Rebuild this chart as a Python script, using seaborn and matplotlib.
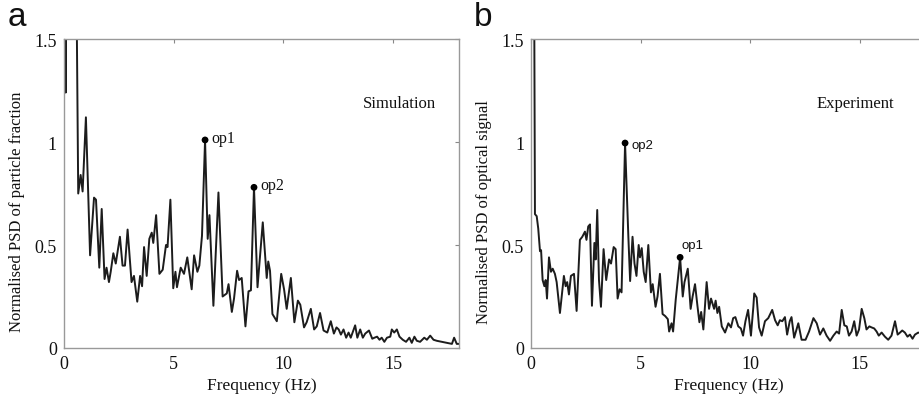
#---------------------------------------------------------------
"""
Normalised PSD: simulated particle fraction vs. measured optical signal
"""
#---------------------------------------------------------------
import matplotlib
matplotlib.use('Agg')
import matplotlib.pyplot as plt
import seaborn as sns

#---------------------------------------------------------------
# panel a: simulation
sim_freq = [0.0, 0.08, 0.16, 0.55, 0.65, 0.76, 0.85, 1.0, 1.19, 1.37, 1.46, 1.61,
            1.72, 1.85, 1.94, 2.05, 2.13, 2.25, 2.36, 2.55, 2.67, 2.78, 2.9, 3.08,
            3.19, 3.34, 3.47, 3.56, 3.65, 3.77, 3.89, 4.0, 4.07, 4.2, 4.35, 4.5,
            4.65, 4.72, 4.85, 4.98, 5.08, 5.15, 5.32, 5.47, 5.62, 5.82, 5.93, 6.08,
            6.17, 6.29, 6.43, 6.55, 6.63, 6.81, 7.04, 7.23, 7.42, 7.5, 7.65, 7.75,
            7.89, 7.98, 8.1, 8.27, 8.41, 8.52, 8.66, 8.82, 9.06, 9.24, 9.31, 9.39,
            9.5, 9.7, 9.9, 10.03, 10.15, 10.34, 10.5, 10.66, 10.77, 10.94, 11.06,
            11.25, 11.4, 11.52, 11.67, 11.83, 12.0, 12.16, 12.3, 12.42, 12.52,
            12.62, 12.74, 12.86, 12.97, 13.07, 13.27, 13.37, 13.5, 13.62, 13.73,
            13.9, 14.05, 14.15, 14.27, 14.38, 14.48, 14.6, 14.72, 14.87, 14.94,
            15.05, 15.17, 15.29, 15.44, 15.59, 15.74, 15.85, 15.97, 16.08, 16.23,
            16.42, 16.54, 16.69, 16.84, 16.99, 17.22, 17.45, 17.68, 17.78, 17.9, 18.0]
sim_psd = [3.0, 1.24, 3.0, 2.0, 0.75, 0.84, 0.76, 1.12, 0.45, 0.73, 0.72, 0.39,
           0.675, 0.335, 0.39, 0.32, 0.37, 0.46, 0.41, 0.54, 0.40, 0.40, 0.575, 0.32,
           0.35, 0.225, 0.35, 0.30, 0.49, 0.35, 0.53, 0.56, 0.51, 0.645, 0.36, 0.38,
           0.50, 0.49, 0.72, 0.29, 0.37, 0.295, 0.39, 0.36, 0.44, 0.285, 0.45, 0.37,
           0.40, 0.545, 1.01, 0.53, 0.645, 0.205, 0.755, 0.25, 0.265, 0.31, 0.175, 0.24,
           0.375, 0.33, 0.34, 0.105, 0.275, 0.28, 0.78, 0.295, 0.61, 0.34, 0.42, 0.375,
           0.165, 0.13, 0.36, 0.285, 0.19, 0.34, 0.125, 0.23, 0.21, 0.10, 0.125,
           0.19, 0.09, 0.105, 0.17, 0.085, 0.075, 0.13, 0.07, 0.10, 0.09,
           0.065, 0.09, 0.05, 0.075, 0.05, 0.11, 0.05, 0.09, 0.05, 0.07,
           0.085, 0.045, 0.05, 0.055, 0.04, 0.05, 0.03, 0.05, 0.055, 0.09,
           0.075, 0.09, 0.055, 0.04, 0.03, 0.05, 0.025, 0.055, 0.035, 0.03,
           0.05, 0.04, 0.06, 0.04, 0.035, 0.03, 0.025, 0.02, 0.05, 0.02, 0.02]
sim_peak_freq = [6.43, 8.66]
sim_peak_psd = [1.01, 0.78]
sim_peak_names = ['op1', 'op2']

# panel b: experiment
exp_freq = [0.0, 0.12, 0.18, 0.26, 0.33, 0.41, 0.46, 0.53, 0.61, 0.67, 0.73, 0.82,
            0.91, 0.99, 1.09, 1.17, 1.32, 1.5, 1.58, 1.65, 1.73, 1.82, 1.96, 2.08,
            2.23, 2.34, 2.46, 2.53, 2.61, 2.69, 2.78, 2.89, 2.95, 3.02, 3.1, 3.19,
            3.31, 3.43, 3.56, 3.65, 3.77, 3.86, 3.95, 4.04, 4.13, 4.29, 4.44, 4.52,
            4.63, 4.72, 4.81, 4.91, 4.97, 5.05, 5.14, 5.23, 5.35, 5.47, 5.55, 5.68,
            5.77, 5.88, 6.0, 6.12, 6.24, 6.3, 6.41, 6.48, 6.6, 6.8, 6.92, 7.0,
            7.15, 7.28, 7.37, 7.48, 7.59, 7.68, 7.76, 7.86, 8.01, 8.12, 8.21, 8.35,
            8.42, 8.5, 8.58, 8.7, 8.85, 9.0, 9.12, 9.22, 9.32, 9.45, 9.57, 9.67,
            9.78, 9.9, 10.03, 10.14, 10.18, 10.29, 10.4, 10.52, 10.67, 10.82, 11.0,
            11.13, 11.25, 11.35, 11.46, 11.58, 11.68, 11.8, 11.88, 12.0, 12.19,
            12.34, 12.52, 12.68, 12.88, 13.03, 13.18, 13.33, 13.48, 13.64, 13.79,
            13.94, 14.05, 14.17, 14.29, 14.4, 14.5, 14.62, 14.74, 14.85, 14.96,
            15.08, 15.2, 15.3, 15.43, 15.53, 15.65, 15.76, 15.86, 15.99, 16.14,
            16.29, 16.44, 16.6, 16.72, 16.83, 16.93, 17.05, 17.17, 17.28, 17.4,
            17.51, 17.66, 17.8, 18.0]
exp_psd = [3.0, 2.5, 0.65, 0.64, 0.58, 0.47, 0.475, 0.33, 0.30, 0.33, 0.24, 0.44,
           0.37, 0.385, 0.36, 0.32, 0.17, 0.35, 0.30, 0.32, 0.26, 0.35, 0.36, 0.18,
           0.525, 0.54, 0.565, 0.525, 0.59, 0.60, 0.205, 0.51, 0.43, 0.67, 0.33, 0.20,
           0.48, 0.33, 0.43, 0.41, 0.49, 0.48, 0.24, 0.285, 0.27, 0.995, 0.54, 0.325,
           0.54, 0.41, 0.35, 0.50, 0.44, 0.485, 0.37, 0.32, 0.50, 0.27, 0.31, 0.20,
           0.25, 0.36, 0.165, 0.155, 0.14, 0.08, 0.12, 0.08, 0.235, 0.44, 0.25, 0.32,
           0.385, 0.19, 0.25, 0.31, 0.205, 0.125, 0.175, 0.09, 0.32, 0.19, 0.24, 0.19,
           0.23, 0.17, 0.20, 0.105, 0.075, 0.12, 0.10, 0.145, 0.15, 0.105, 0.095, 0.06,
           0.13, 0.185, 0.06, 0.20, 0.265, 0.245, 0.10, 0.06, 0.13, 0.145, 0.185,
           0.135, 0.11, 0.135, 0.13, 0.15, 0.065, 0.13, 0.15, 0.05, 0.12,
           0.04, 0.04, 0.08, 0.145, 0.12, 0.065, 0.095, 0.06, 0.035, 0.06,
           0.08, 0.07, 0.185, 0.11, 0.105, 0.06, 0.08, 0.13, 0.06, 0.09,
           0.19, 0.145, 0.09, 0.105, 0.10, 0.095, 0.08, 0.06, 0.075, 0.055,
           0.04, 0.06, 0.13, 0.065, 0.075, 0.085, 0.075, 0.055, 0.065, 0.045,
           0.065, 0.075, 0.07, 0.06]
exp_peak_freq = [4.29, 6.8]
exp_peak_psd = [0.995, 0.44]
exp_peak_names = ['op2', 'op1']

x_ticks = [0, 5, 10, 15]
y_ticks = [0, 0.5, 1, 1.5]
y_tick_labels = ['0', '0.5', '1', '1.5']


#---------------------------------------------------------------
def style_axes(ax, ylabel):
    ax.set_xlim(0, 18)
    ax.set_ylim(0, 1.5)
    ax.set_xticks(x_ticks)
    ax.set_xticklabels([str(t) for t in x_ticks])
    ax.set_yticks(y_ticks)
    ax.set_yticklabels(y_tick_labels)
    ax.tick_params(direction = 'in', length = 3, width = 0.8, color = '#888888',
                   top = True, right = True, pad = 5, labelsize = 13,
                   labelcolor = '#111111')
    for s in ax.spines.values():
        s.set_color('#999999')
        s.set_linewidth(1.0)
    ax.set_xlabel('Frequency (Hz)', fontsize = 12.5, color = '#111111', labelpad = 4)
    ax.set_ylabel(ylabel, fontsize = 12, color = '#111111', labelpad = 5)
    ax.yaxis.set_label_coords(-0.098, 0.443)
    ax.grid(False)


#---------------------------------------------------------------
def main():
    sns.set_theme(style = 'white')
    plt.rcParams['font.family'] = ['Liberation Serif', 'DejaVu Serif']
    fig = plt.figure(figsize = (9.19, 4.06), dpi = 100)
    ax_a = fig.add_axes([0.0696, 0.1404, 0.4298, 0.761])
    ax_b = fig.add_axes([0.5778, 0.1404, 0.4295, 0.761])
    line_c = '#1c1c1c'

    sns.lineplot(x = sim_freq, y = sim_psd, ax = ax_a, color = line_c,
                 linewidth = 1.4, sort = False, solid_joinstyle = 'round')
    sns.scatterplot(x = sim_peak_freq, y = sim_peak_psd, ax = ax_a, color = 'black',
                    s = 24, edgecolor = 'none', zorder = 3)
    for f, v, name in zip(sim_peak_freq, sim_peak_psd, sim_peak_names):
        ax_a.text(f + 0.3, v + 0.01, name, fontsize = 11.5, va = 'center',
                  color = '#111111')
    ax_a.text(15.3, 1.19, 'Simulation', fontsize = 12, ha = 'center', va = 'center',
              color = '#111111')
    style_axes(ax_a, 'Normalised PSD of particle fraction')

    sns.lineplot(x = exp_freq, y = exp_psd, ax = ax_b, color = line_c,
                 linewidth = 1.4, sort = False, solid_joinstyle = 'round')
    sns.scatterplot(x = exp_peak_freq, y = exp_peak_psd, ax = ax_b, color = 'black',
                    s = 24, edgecolor = 'none', zorder = 3)
    ax_b.text(exp_peak_freq[0] + 0.28, exp_peak_psd[0] - 0.01, exp_peak_names[0],
              fontsize = 9.5, va = 'center', family = ['Liberation Sans'],
              color = '#111111')
    ax_b.text(exp_peak_freq[1] + 0.05, exp_peak_psd[1] + 0.03, exp_peak_names[1],
              fontsize = 9.5, va = 'bottom', family = ['Liberation Sans'],
              color = '#111111')
    ax_b.text(14.8, 1.19, 'Experiment', fontsize = 12, ha = 'center', va = 'center',
              color = '#111111')
    style_axes(ax_b, 'Normalised PSD of optical signal')

    fig.text(0.008, 0.935, 'a', fontsize = 24, family = ['Liberation Sans'],
             color = '#111111', va = 'baseline')
    fig.text(0.516, 0.935, 'b', fontsize = 24, family = ['Liberation Sans'],
             color = '#111111', va = 'baseline')

    fig.savefig('out.png', dpi = 100)


#---------------------------------------------------------------
if __name__ == '__main__':
    main()
